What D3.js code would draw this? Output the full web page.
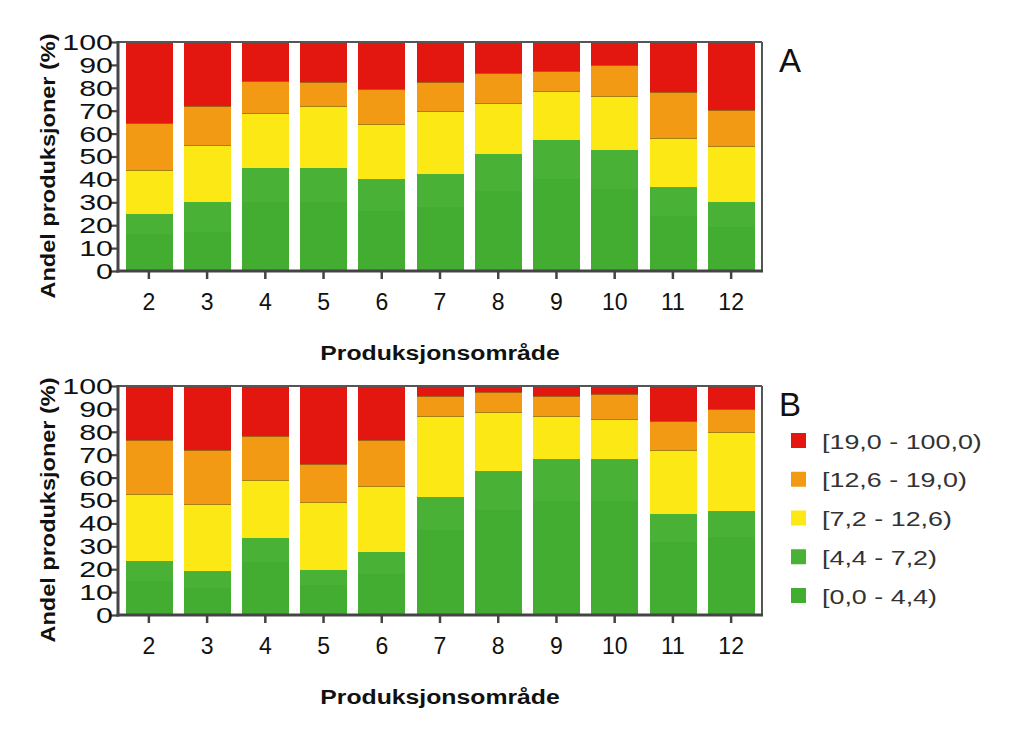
<!DOCTYPE html>
<html>
<head>
<meta charset="utf-8">
<script src="https://cdn.jsdelivr.net/npm/d3@7"></script>
<style>
html,body{margin:0;padding:0;background:#fff;}
svg{display:block;font-family:"Liberation Sans",Arial,sans-serif;}
</style>
</head>
<body>
<svg id="chart" width="1024" height="741"></svg>
<script>
const categories = ["2","3","4","5","6","7","8","9","10","11","12"];
const seriesKeys = ["g0","g1","yellow","orange","red"];
const seriesLabels = ["[0,0 - 4,4)","[4,4  - 7,2)","[7,2  - 12,6)","[12,6  - 19,0)","[19,0  - 100,0)"];
const seriesColors = ["#43ad32","#49b135","#fbe815","#f39a14","#e3170f"];
const yTicks = [0,10,20,30,40,50,60,70,80,90,100];

// Panel A (percent per class)
const aG0     = [16, 17, 30, 30, 26, 28, 35, 40, 36, 24, 19];
const aG1     = [9, 13, 15, 15, 14, 14.5, 16, 17, 17, 12.5, 11];
const aYellow = [19, 25, 24, 27, 24, 27.5, 22.5, 21.5, 23.5, 21.5, 24.5];
const aOrange = [20.5, 17, 14, 10.5, 15.5, 12.5, 13, 9, 13.5, 20, 16];
const aRed    = [35.5, 28, 17, 17.5, 20.5, 17.5, 13.5, 12.5, 10, 22, 29.5];

// Panel B
const bG0     = [15, 12, 23, 13, 18, 37, 46, 50, 50, 32, 34];
const bG1     = [8.5, 7, 10.5, 6.5, 9.5, 14.5, 17, 18, 18, 12, 11.5];
const bYellow = [29.5, 29.5, 25.5, 30, 29, 35.5, 25.5, 19, 17.5, 28, 34.5];
const bOrange = [23.5, 23.5, 19, 16.5, 20, 8.5, 9, 8.5, 11, 12.5, 10];
const bRed    = [23.5, 28, 22, 34, 23.5, 4.5, 2.5, 4.5, 3.5, 15.5, 10];

const panelLetters = ["A","B"];
const xTitle = "Produksjonsområde";
const yTitle = "Andel produksjoner (%)";

function rows(g0,g1,y,o,r){
  return categories.map((c,i)=>({cat:c,g0:g0[i],g1:g1[i],yellow:y[i],orange:o[i],red:r[i]}));
}
const panels = [rows(aG0,aG1,aYellow,aOrange,aRed), rows(bG0,bG1,bYellow,bOrange,bRed)];

const svg = d3.select("#chart");
const left = 118, right = 762;
const x = d3.scaleBand().domain(categories).range([left,right]).paddingInner(0.2).paddingOuter(0.13);
const color = d3.scaleOrdinal().domain(seriesKeys).range(seriesColors);
const stack = d3.stack().keys(seriesKeys);

function stretchedText(g, tx, ty, str, opts){
  const t = g.append("g").attr("transform",`translate(${tx},${ty}) ${opts.rotate?`rotate(${opts.rotate})`:""} scale(${opts.sx||1},1)`)
    .append("text")
    .attr("text-anchor",opts.anchor||"middle")
    .attr("font-size",opts.size)
    .attr("font-weight",opts.weight||"normal")
    .attr("fill",opts.fill||"#111")
    .text(str);
  if(opts.dy) t.attr("dy",opts.dy);
  return t;
}

panels.forEach((data,pi)=>{
  const off = pi*344;
  const top = 42+off, bottom = 271+off;
  const y = d3.scaleLinear().domain([0,100]).range([bottom,top]);
  const g = svg.append("g");

  const series = stack(data);
  g.selectAll("g.s").data(series).join("g").attr("class","s").attr("fill",d=>color(d.key))
    .selectAll("rect").data(d=>d).join("rect")
    .attr("shape-rendering","crispEdges")
    .attr("x",d=>Math.round(x(d.data.cat)))
    .attr("width",Math.round(x.bandwidth()))
    .attr("y",d=>Math.round(y(d[1])))
    .attr("height",d=>Math.round(y(d[0]))-Math.round(y(d[1])));
  // thin dark borders around the orange class
  g.selectAll("line.sep").data(series.find(s=>s.key==="orange").flatMap(d=>[
      {cat:d.data.cat,v:d[0]},{cat:d.data.cat,v:d[1]}]))
    .join("line").attr("class","sep")
    .attr("x1",d=>Math.round(x(d.cat))).attr("x2",d=>Math.round(x(d.cat))+Math.round(x.bandwidth()))
    .attr("y1",d=>Math.round(y(d.v))+0.5).attr("y2",d=>Math.round(y(d.v))+0.5)
    .attr("stroke","rgba(110,60,15,0.6)").attr("stroke-width",1);

  // frame top & right
  g.append("line").attr("x1",left).attr("x2",right).attr("y1",top).attr("y2",top).attr("stroke","#555").attr("stroke-width",2);
  g.append("line").attr("x1",right).attr("x2",right).attr("y1",top).attr("y2",bottom).attr("stroke","#555").attr("stroke-width",2);

  // y axis
  const ya = g.append("g").attr("transform",`translate(${left},0)`)
    .call(d3.axisLeft(y).tickValues(yTicks).tickSize(7).tickFormat(""));
  ya.select(".domain").attr("stroke","#444").attr("stroke-width",3).attr("d",`M0,${top-1}V${bottom+1.5}`);
  ya.selectAll(".tick line").attr("stroke","#444").attr("stroke-width",2.2);
  yTicks.forEach(v=>{
    stretchedText(g, 113, y(v), String(v), {size:22, sx:1.38, anchor:"end", dy:"0.36em", fill:"#111"});
  });

  // x axis
  const xa = g.append("g").attr("transform",`translate(0,${bottom})`)
    .call(d3.axisBottom(x).tickSize(8).tickFormat(""));
  xa.select(".domain").attr("stroke","#444").attr("stroke-width",3).attr("d",`M${left-1.5},0H${right+1}`);
  xa.selectAll(".tick line").attr("stroke","#444").attr("stroke-width",2.5);
  categories.forEach(c=>{
    stretchedText(g, x(c)+x.bandwidth()/2, bottom+39, c, {size:23, sx:1.0, fill:"#111"});
  });

  // titles
  stretchedText(g, 440, bottom+89, xTitle, {size:21, sx:1.18, weight:"bold", fill:"#111"});
  stretchedText(g, 55, (top+bottom)/2+9.5, yTitle, {size:21, sx:1.12, weight:"bold", rotate:-90, fill:"#111"});

  // panel letter
  g.append("text").attr("x",779).attr("y",top+30).attr("font-size",33).attr("fill","#111").text(panelLetters[pi]);
});

// Legend (panel B)
const legendOrder = [4,3,2,1,0];
const lg = svg.append("g");
const legY = d3.scalePoint().domain(legendOrder).range([441,596]);
legendOrder.forEach(k=>{
  const cy = legY(k);
  lg.append("rect").attr("x",791).attr("y",cy-8).attr("width",15).attr("height",15).attr("fill",seriesColors[k]);
  stretchedText(lg, 822, cy, seriesLabels[k], {size:21, sx:1.28, anchor:"start", dy:"0.36em", fill:"#333"});
});
</script>
</body>
</html>
